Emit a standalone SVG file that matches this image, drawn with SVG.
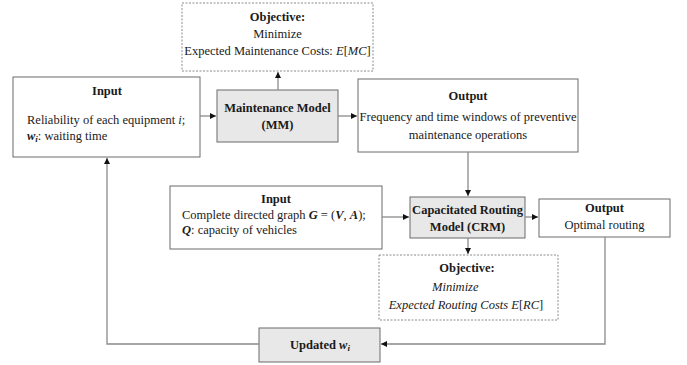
<svg xmlns="http://www.w3.org/2000/svg" width="687" height="365" viewBox="0 0 687 365">
<style>
text{font-family:"Liberation Serif","Times New Roman",serif;font-size:12.5px;fill:#1a1a1a}
.b{font-weight:bold}
.c{text-anchor:middle}
.i{font-style:italic}
.box{fill:#fff;stroke:#6b6b6b;stroke-width:1}
.model{fill:#e8e8e8;stroke:#6b6b6b;stroke-width:1}
.obj{fill:#fff;stroke:#8a8a8a;stroke-width:1;stroke-dasharray:2 1.5}
.ln{fill:none;stroke:#8a8a8a;stroke-width:1.3}
</style>
<defs>
<marker id="ah" viewBox="0 0 6 6" refX="6" refY="3" markerWidth="6" markerHeight="6" markerUnits="userSpaceOnUse" orient="auto">
<path d="M0,0 L6,3 L0,6 z" fill="#111"/>
</marker>
</defs>

<g id="objective1">
<rect class="obj" x="182" y="3" width="191" height="68"/>
<text class="b c" x="277.5" y="21">Objective:</text>
<text class="c" x="277.5" y="38">Minimize</text>
<text class="c" x="277.5" y="55">Expected Maintenance Costs: <tspan class="i">E</tspan>[<tspan class="i">MC</tspan>]</text>
</g>

<g id="input1">
<rect class="box" x="13" y="77" width="187" height="80"/>
<text class="b c" x="107" y="95">Input</text>
<text x="27" y="124">Reliability of each equipment <tspan class="i">i</tspan>;</text>
<text x="27" y="140"><tspan class="b i">w</tspan><tspan class="b i" font-size="9" dy="2">i</tspan><tspan dy="-2">: waiting time</tspan></text>
</g>

<g id="mm">
<rect class="model" x="217" y="90" width="121" height="52"/>
<text class="b c" x="277.5" y="112">Maintenance Model</text>
<text class="b c" x="277.5" y="129">(MM)</text>
</g>

<g id="output1">
<rect class="box" x="358" y="79" width="220" height="73"/>
<text class="b c" x="468" y="100">Output</text>
<text class="c" x="468" y="121">Frequency and time windows of preventive</text>
<text class="c" x="468" y="139">maintenance operations</text>
</g>

<g id="input2">
<rect class="box" x="170" y="186" width="212" height="63"/>
<text class="b c" x="276" y="203">Input</text>
<text x="182" y="219">Complete directed graph <tspan class="b i">G</tspan> = (<tspan class="b i">V</tspan>, <tspan class="b i">A</tspan>);</text>
<text x="182" y="234"><tspan class="b i">Q</tspan>: capacity of vehicles</text>
</g>

<g id="crm">
<rect class="model" x="410" y="197" width="115" height="41"/>
<text class="b c" x="467.5" y="214">Capacitated Routing</text>
<text class="b c" x="467.5" y="231">Model (CRM)</text>
</g>

<g id="output2">
<rect class="box" x="539" y="199" width="131" height="38"/>
<text class="b c" x="604.5" y="212">Output</text>
<text class="c" x="604.5" y="229">Optimal routing</text>
</g>

<g id="objective2">
<rect class="obj" x="379" y="255" width="179" height="65"/>
<text class="b c" x="467" y="272">Objective:</text>
<text class="i" x="432" y="291">Minimize</text>
<text class="i c" x="466" y="309">Expected Routing Costs <tspan>E</tspan><tspan font-style="normal">[</tspan>RC<tspan font-style="normal">]</tspan></text>
</g>

<g id="updated">
<rect class="model" x="259" y="328" width="121" height="34"/>
<text class="b c" x="320" y="349">Updated <tspan class="i">w</tspan><tspan class="i" font-size="9" dy="2">i</tspan></text>
</g>

<g id="connectors">
<line class="ln" x1="200" y1="116" x2="216" y2="116" marker-end="url(#ah)"/>
<line class="ln" x1="338" y1="116" x2="357" y2="116" marker-end="url(#ah)"/>
<line class="ln" x1="278" y1="90" x2="278" y2="72" marker-end="url(#ah)"/>
<line class="ln" x1="468" y1="152" x2="468" y2="196" marker-end="url(#ah)"/>
<line class="ln" x1="382" y1="217" x2="409" y2="217" marker-end="url(#ah)"/>
<line class="ln" x1="525" y1="217" x2="538" y2="217" marker-end="url(#ah)"/>
<line class="ln" x1="468" y1="238" x2="468" y2="254" marker-end="url(#ah)"/>
<polyline class="ln" points="605,237 605,344 381,344" marker-end="url(#ah)"/>
<polyline class="ln" points="259,344 107,344 107,158" marker-end="url(#ah)"/>
</g>
</svg>
